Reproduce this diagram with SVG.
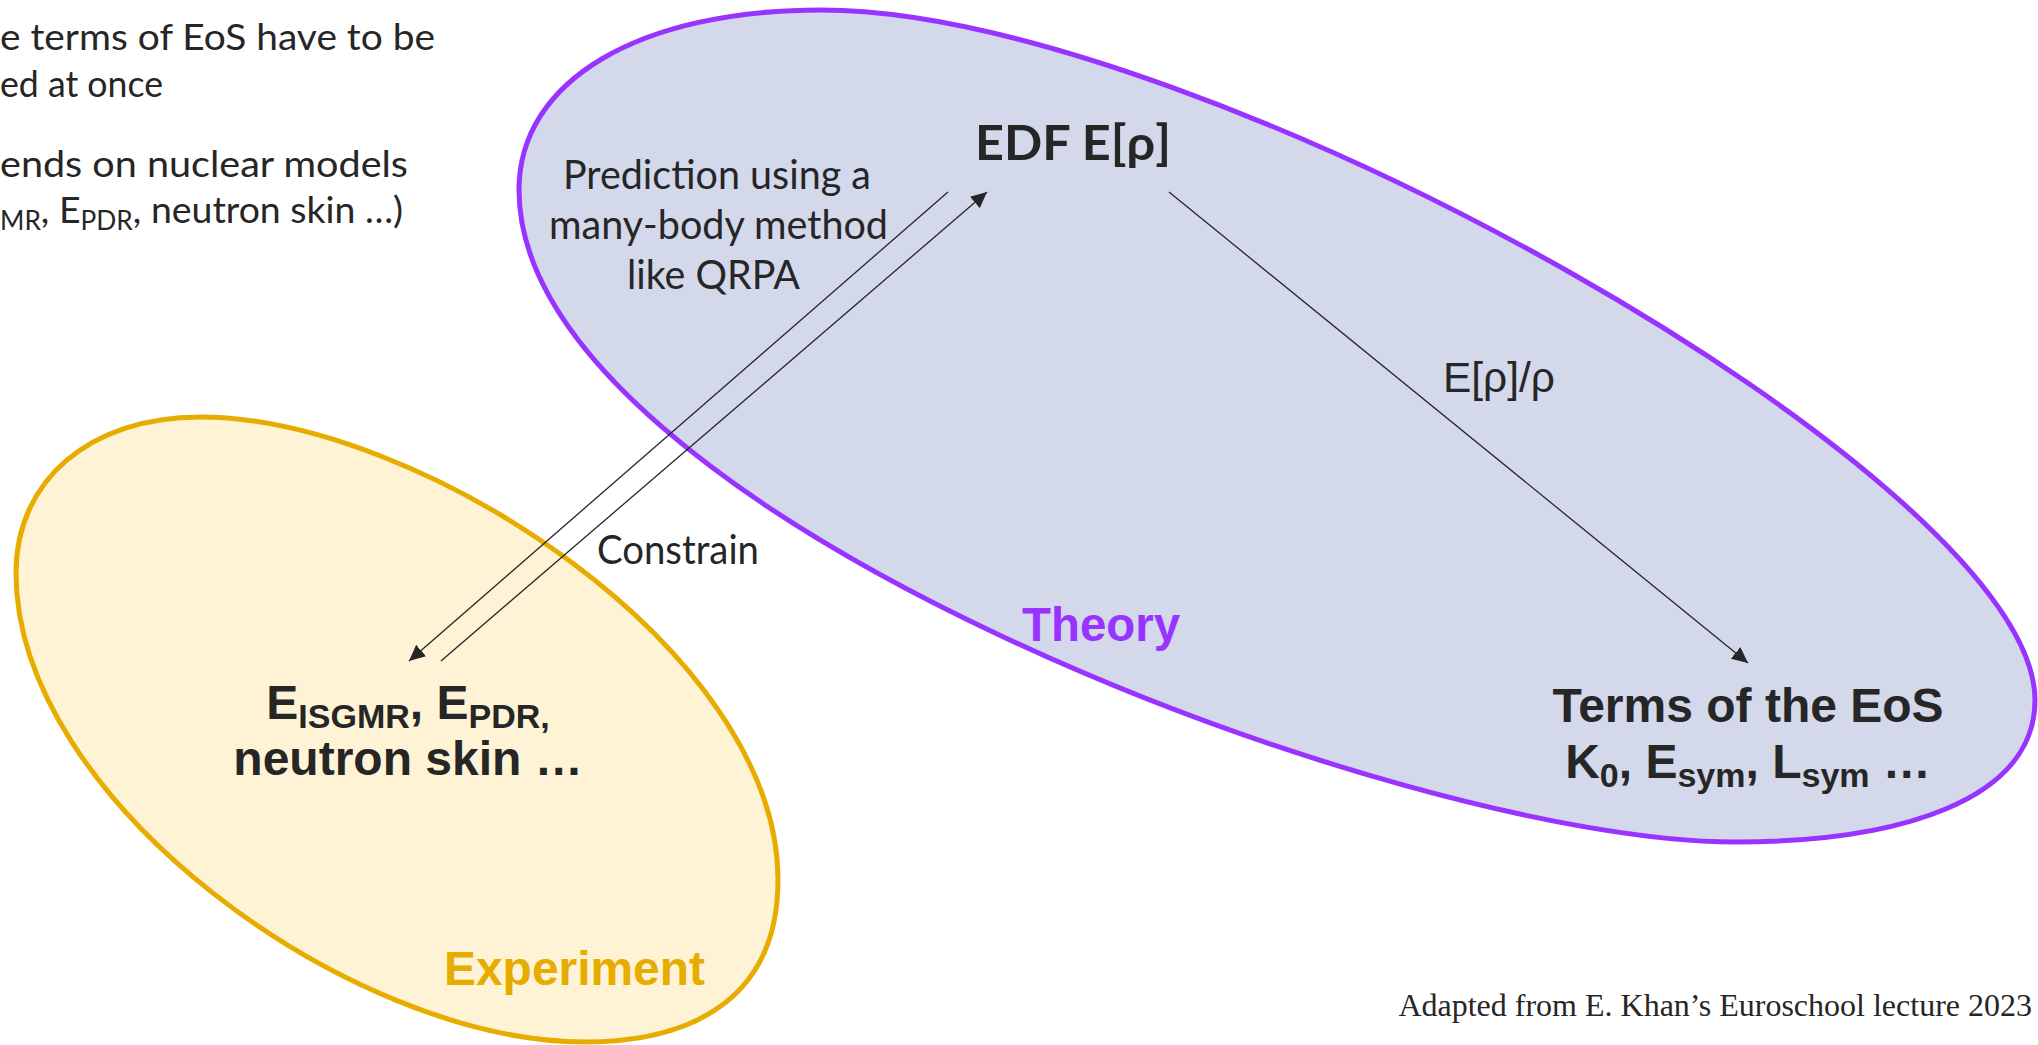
<svg xmlns="http://www.w3.org/2000/svg" width="2038" height="1045" viewBox="0 0 2038 1045">
<defs>
<style>
.body{font-family:Lato,"Open Sans","Noto Sans",sans-serif;font-size:40px;fill:#262626}
.small{font-size:37px}
.bold{font-family:"Liberation Sans",Arial,sans-serif;font-weight:bold;font-size:48px;fill:#262626}
.sub{font-size:34px}
.conn{stroke:#262626;stroke-width:1.3;fill:none;marker-end:url(#ah)}
</style>
<marker id="ah" viewBox="0 0 16 15" refX="16" refY="7.5" markerWidth="16" markerHeight="15" markerUnits="userSpaceOnUse" orient="auto">
<path d="M0,0 L16,7.5 L0,15 Z" fill="#262626"/>
</marker>
</defs>
<rect width="2038" height="1045" fill="#ffffff"/>

<g id="intro-text" class="body small">
<text x="0" y="50" textLength="435" lengthAdjust="spacingAndGlyphs">e terms of EoS have to be</text>
<text x="0" y="97" textLength="163" lengthAdjust="spacingAndGlyphs">ed at once</text>
<text x="0" y="177" textLength="408" lengthAdjust="spacingAndGlyphs">ends on nuclear models</text>
<text x="0" y="223" textLength="403" lengthAdjust="spacingAndGlyphs"><tspan font-size="26" dy="7">MR</tspan><tspan dy="-7">, E</tspan><tspan font-size="26" dy="7">PDR</tspan><tspan dy="-7">, neutron skin …)</tspan></text>
</g>

<g id="experiment">
<path d="M200,417 C420,417 778,650 778,880 C778,1000 690,1042 585,1042 C350,1042 16,800 16,573 C16,480 90,417 200,417 Z" fill="#FFF3D6" stroke="#E6AC00" stroke-width="5"/>
<text class="bold" x="444" y="985" style="fill:#E6AC00" textLength="261" lengthAdjust="spacingAndGlyphs">Experiment</text>
<text class="bold" x="408" y="719" text-anchor="middle">E<tspan class="sub" dy="9">ISGMR</tspan><tspan dy="-9">, E</tspan><tspan class="sub" dy="9">PDR,</tspan></text>
<text class="bold" x="408" y="775" text-anchor="middle">neutron skin …</text>
</g>

<g id="theory">
<path d="M519,190 C519,80 640,10 821,10 C1200,10 2035,480 2035,700 C2035,800 1900,842 1735,842 C1400,842 519,510 519,190 Z" fill="#D3D8EB" stroke="#9933FF" stroke-width="5"/>
<text class="bold" x="1022" y="641" style="fill:#9933FF" textLength="158" lengthAdjust="spacingAndGlyphs">Theory</text>
</g>

<g id="edf">
<text class="body" x="975" y="160" style="font-weight:bold;font-size:48px" textLength="196" lengthAdjust="spacingAndGlyphs">EDF E[ρ]</text>
</g>

<g id="eos-terms">
<text class="bold" x="1748" y="722" text-anchor="middle">Terms of the EoS</text>
<text class="bold" x="1748" y="778" text-anchor="middle">K<tspan class="sub" dy="9">0</tspan><tspan dy="-9">, E</tspan><tspan class="sub" dy="9">sym</tspan><tspan dy="-9">, L</tspan><tspan class="sub" dy="9">sym</tspan><tspan dy="-9"> …</tspan></text>
</g>

<g id="connectors">
<line class="conn" x1="948" y1="192" x2="409" y2="661"/>
<line class="conn" x1="441" y1="661" x2="987" y2="192"/>
<line class="conn" x1="1169" y1="192" x2="1748" y2="663"/>
</g>

<g id="labels" class="body">
<text x="563" y="189" textLength="308" lengthAdjust="spacingAndGlyphs">Prediction using a</text>
<text x="549" y="239" textLength="339" lengthAdjust="spacingAndGlyphs">many-body method</text>
<text x="627" y="289" textLength="173" lengthAdjust="spacingAndGlyphs">like QRPA</text>
<text x="597" y="564" textLength="162" lengthAdjust="spacingAndGlyphs">Constrain</text>
<text x="1443" y="392" style="font-family:'Liberation Sans',Arial,sans-serif;font-size:42px" textLength="112" lengthAdjust="spacingAndGlyphs">E[ρ]/ρ</text>
</g>

<g id="credit">
<text x="2032" y="1016" text-anchor="end" style="font-family:'Liberation Serif','Times New Roman',serif;font-size:32px;fill:#262626">Adapted from E. Khan’s Euroschool lecture 2023</text>
</g>
</svg>
